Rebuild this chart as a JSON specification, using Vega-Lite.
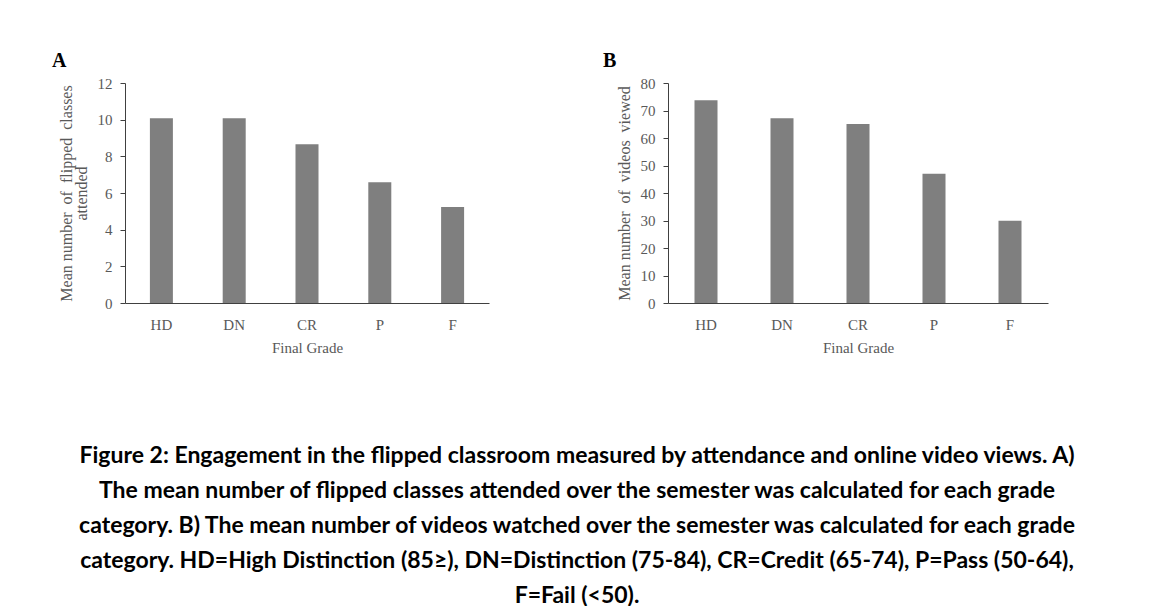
{
  "$schema": "https://vega.github.io/schema/vega-lite/v6.json",
  "background": "white",
  "padding": {"left": 52, "top": 51, "right": 0, "bottom": 0},
  "datasets": {
    "a": [
      {"grade": "HD", "value": 10.08},
      {"grade": "DN", "value": 10.08},
      {"grade": "CR", "value": 8.66},
      {"grade": "P", "value": 6.58},
      {"grade": "F", "value": 5.23}
    ],
    "b": [
      {"grade": "HD", "value": 73.7},
      {"grade": "DN", "value": 67.2},
      {"grade": "CR", "value": 65.1},
      {"grade": "P", "value": 47.0},
      {"grade": "F", "value": 29.9}
    ]
  },
  "spacing": 114,
  "hconcat": [
    {
      "data": {"name": "a"},
      "width": 364,
      "height": 220,
      "title": {"text": "A", "anchor": "start", "frame": "group", "font": "Liberation Serif", "fontSize": 20, "fontWeight": "bold", "color": "black", "offset": 5, "dx": -73},
      "mark": {"type": "bar", "size": 23, "color": "#7f7f7f"},
      "encoding": {
        "x": {"field": "grade", "type": "nominal", "sort": null, "scale": {"paddingInner": 0, "paddingOuter": 0},
              "axis": {"title": "Final Grade", "labelAngle": 0, "ticks": false, "labelPadding": 14, "titlePadding": 8}},
        "y": {"field": "value", "type": "quantitative", "scale": {"domain": [0, 12]},
              "axis": {"title": ["Mean number \u00a0of \u00a0flipped \u00a0classes", "attended"], "titleFontSize": 16, "values": [0, 2, 4, 6, 8, 10, 12], "grid": false}}
      }
    },
    {
      "data": {"name": "b"},
      "width": 380,
      "height": 220,
      "title": {"text": "B", "anchor": "start", "frame": "group", "font": "Liberation Serif", "fontSize": 20, "fontWeight": "bold", "color": "black", "offset": 5, "dx": -65},
      "mark": {"type": "bar", "size": 23, "color": "#7f7f7f"},
      "encoding": {
        "x": {"field": "grade", "type": "nominal", "sort": null, "scale": {"paddingInner": 0, "paddingOuter": 0},
              "axis": {"title": "Final Grade", "labelAngle": 0, "ticks": false, "labelPadding": 14, "titlePadding": 8}},
        "y": {"field": "value", "type": "quantitative", "scale": {"domain": [0, 80]},
              "axis": {"title": "Mean number \u00a0of \u00a0videos \u00a0viewed", "titleFontSize": 16, "values": [0, 10, 20, 30, 40, 50, 60, 70, 80], "grid": false}}
      }
    }
  ],
  "title": {
    "text": [
      "Figure 2: Engagement in the flipped classroom measured by attendance and online video views. A)",
      "The mean number of flipped classes attended over the semester was calculated for each grade",
      "category. B) The mean number of videos watched over the semester was calculated for each grade",
      "category. HD=High Distinction (85≥), DN=Distinction (75-84), CR=Credit (65-74), P=Pass (50-64),",
      "F=Fail (<50)."
    ],
    "orient": "bottom",
    "anchor": "middle",
    "font": "Lato",
    "fontSize": 23,
    "fontWeight": "bold",
    "lineHeight": 35,
    "offset": 90,
    "dx": 27,
    "color": "black"
  },
  "config": {
    "view": {"stroke": null},
    "axis": {
      "labelFont": "Liberation Serif",
      "labelFontSize": 15,
      "labelColor": "#595959",
      "titleFont": "Liberation Serif",
      "titleFontSize": 15,
      "titleFontWeight": "normal",
      "titleColor": "#595959",
      "titleLineHeight": 15,
      "domainColor": "#404040",
      "tickColor": "#404040",
      "tickSize": 5,
      "labelPadding": 8,
      "titlePadding": 8
    }
  }
}
